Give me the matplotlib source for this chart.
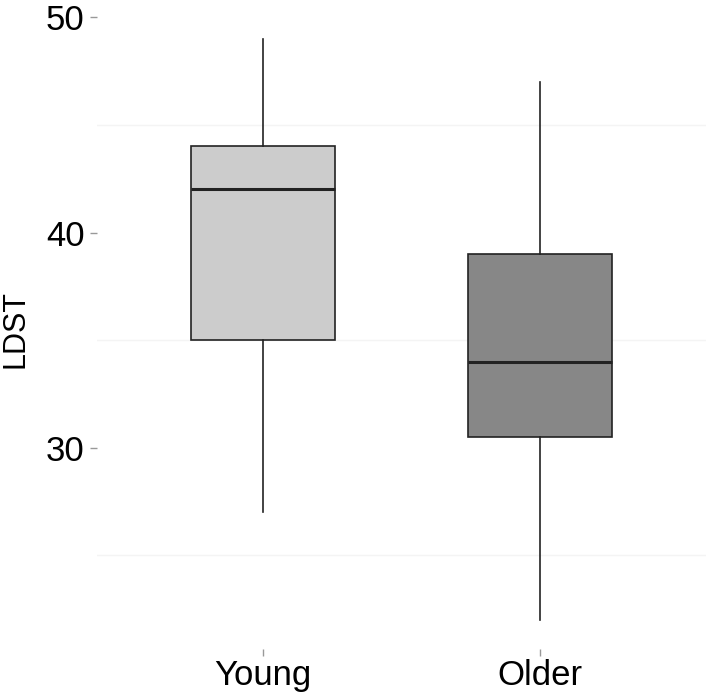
import matplotlib.pyplot as plt

plt.rcParams['font.family'] = ['Liberation Sans', 'DejaVu Sans']

groups = ['Young', 'Older']
whisker_low = [27, 22]
q1 = [35, 30.5]
medians = [42, 34]
q3 = [44, 39]
whisker_high = [49, 47]
fill_colors = ['#cccccc', '#878787']

stats = []
for i, g in enumerate(groups):
    stats.append({'label': g, 'whislo': whisker_low[i], 'q1': q1[i], 'med': medians[i],
                  'q3': q3[i], 'whishi': whisker_high[i], 'fliers': []})

fig = plt.figure(figsize=(7.09, 6.92), dpi=100)
ax = fig.add_axes([0.137, 0.062, 0.859, 0.924])

# faint minor grid between labelled ticks
for y in [25, 35, 45]:
    ax.axhline(y, color='#f4f4f4', lw=1, zorder=0)

bp = ax.bxp(stats, positions=[1, 2], widths=0.52, patch_artist=True, showcaps=False,
            boxprops=dict(edgecolor='#222222', linewidth=1.2),
            medianprops=dict(color='#222222', linewidth=2.2),
            whiskerprops=dict(color='#222222', linewidth=1.2))
for patch, c in zip(bp['boxes'], fill_colors):
    patch.set_facecolor(c)

ax.set_xlim(0.4, 2.6)
ax.set_ylim(20.65, 50.35)
ax.set_yticks([30, 40, 50])
for s in ax.spines.values():
    s.set_visible(False)
ax.tick_params(axis='both', colors='#999999', labelcolor='black', labelsize=25, length=5, width=1)
ax.tick_params(axis='x', pad=2)
ax.tick_params(axis='y', pad=4)

fig.text(0.022, 0.525, 'LDST', rotation=90, ha='center', va='center', fontsize=22)

fig.savefig('out.png', dpi=100)
